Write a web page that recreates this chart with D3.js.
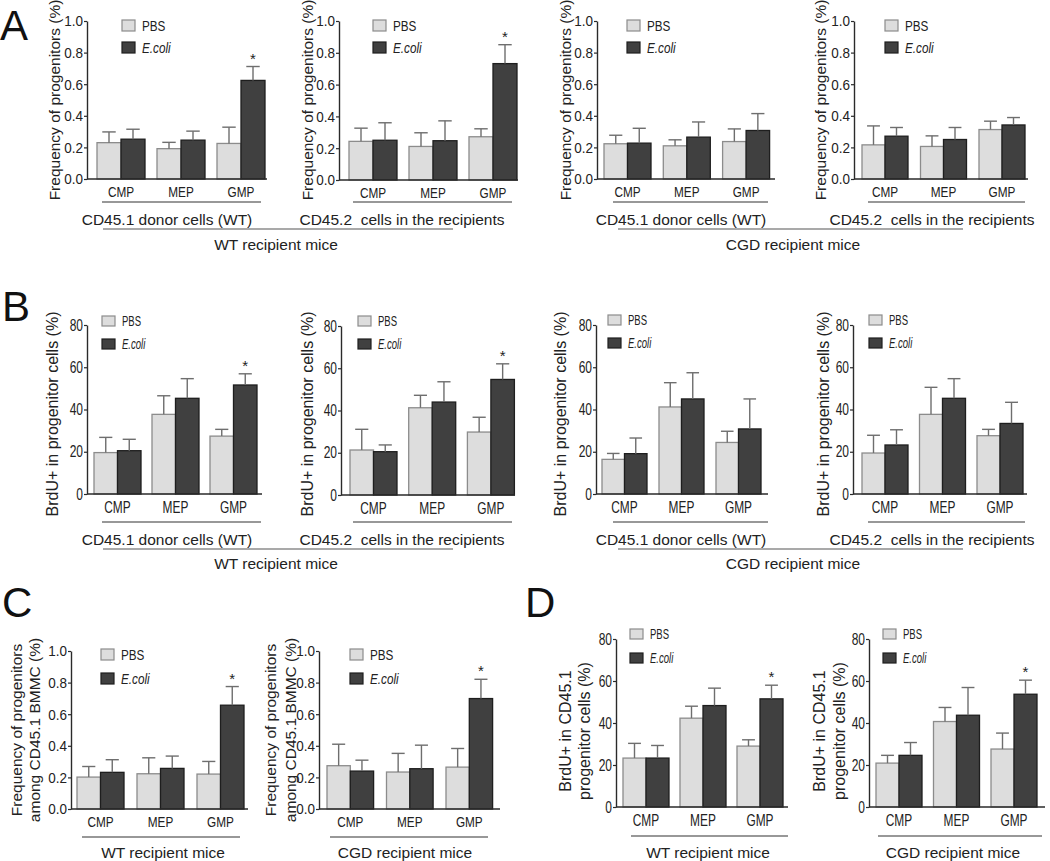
<!DOCTYPE html>
<html><head><meta charset="utf-8">
<script src="https://cdn.jsdelivr.net/npm/d3@7/dist/d3.min.js"></script>
<style>
body{margin:0;background:#fff;}
svg{display:block;}
</style></head>
<body>
<svg id="fig" width="1050" height="861"></svg>
<script>
// ---------- DATA ----------
const categories = ["CMP", "MEP", "GMP"];
const seriesNames = ["PBS", "E.coli"];
const fracTicks = [0, 0.2, 0.4, 0.6, 0.8, 1.0];
const pctTicks = [0, 20, 40, 60, 80];

// Panel A: frequency of progenitors (%)
const a1PBS = [0.230, 0.192, 0.225], a1PBSErr = [0.068, 0.040, 0.103];
const a1Ecoli = [0.252, 0.246, 0.624], a1EcoliErr = [0.063, 0.057, 0.088];
const a1Sig = ["GMP"];
const a2PBS = [0.243, 0.211, 0.272], a2PBSErr = [0.083, 0.086, 0.050];
const a2Ecoli = [0.250, 0.247, 0.732], a2EcoliErr = [0.110, 0.125, 0.119];
const a2Sig = ["GMP"];
const a3PBS = [0.223, 0.210, 0.237], a3PBSErr = [0.054, 0.038, 0.080];
const a3Ecoli = [0.227, 0.265, 0.307], a3EcoliErr = [0.094, 0.096, 0.107];
const a3Sig = [];
const a4PBS = [0.216, 0.206, 0.313], a4PBSErr = [0.120, 0.067, 0.053];
const a4Ecoli = [0.271, 0.250, 0.342], a4EcoliErr = [0.055, 0.076, 0.047];
const a4Sig = [];

// Panel B: BrdU+ in progenitor cells (%)
const b1PBS = [19.6, 37.7, 27.4], b1PBSErr = [7.2, 8.8, 3.2];
const b1Ecoli = [20.5, 45.3, 51.6], b1EcoliErr = [5.4, 9.3, 5.3];
const b1Sig = ["GMP"];
const b2PBS = [21.3, 41.3, 29.8], b2PBSErr = [9.8, 5.9, 7.0];
const b2Ecoli = [20.5, 44.0, 54.7], b2EcoliErr = [3.2, 9.6, 7.4];
const b2Sig = ["GMP"];
const b3PBS = [16.4, 41.2, 24.4], b3PBSErr = [2.8, 11.5, 5.3];
const b3Ecoli = [19.1, 45.0, 30.8], b3EcoliErr = [7.4, 12.4, 14.2];
const b3Sig = [];
const b4PBS = [19.4, 37.7, 27.6], b4PBSErr = [8.4, 12.8, 3.0];
const b4Ecoli = [23.2, 45.3, 33.4], b4EcoliErr = [7.2, 9.3, 10.0];
const b4Sig = [];

// Panel C: frequency among CD45.1 BMMC (%)
const c1PBS = [0.202, 0.223, 0.221], c1PBSErr = [0.067, 0.101, 0.080];
const c1Ecoli = [0.232, 0.257, 0.657], c1EcoliErr = [0.080, 0.078, 0.118];
const c1Sig = ["GMP"];
const c2PBS = [0.274, 0.234, 0.265], c2PBSErr = [0.136, 0.118, 0.118];
const c2Ecoli = [0.240, 0.255, 0.699], c2EcoliErr = [0.069, 0.149, 0.122];
const c2Sig = ["GMP"];

// Panel D: BrdU+ in CD45.1 progenitor cells (%)
const d1PBS = [23.3, 42.3, 29.0], d1PBSErr = [7.0, 5.7, 3.0];
const d1Ecoli = [23.3, 48.3, 51.5], d1EcoliErr = [6.0, 8.3, 6.5];
const d1Sig = ["GMP"];
const d2PBS = [20.9, 40.7, 27.6], d2PBSErr = [3.7, 6.7, 7.6];
const d2Ecoli = [24.6, 43.7, 53.7], d2EcoliErr = [6.1, 13.2, 6.7];
const d2Sig = ["GMP"];

// ---------- STYLE ----------
const REG = "'Liberation Sans', Arial, sans-serif";
const colPBS = "#dddddd", strokePBS = "#8c8c8c";
const colEco = "#404040", strokeEco = "#1e1e1e";
const errCol = "#6e6e6e";
const axisCol = "#2a2a2a";

const svg = d3.select("#fig");

// condense a text selection horizontally (emulates a narrow typeface)
function condense(sel, ratio) {
  sel.each(function () {
    const len = this.getComputedTextLength();
    if (len > 0) {
      d3.select(this).attr("textLength", (len * ratio).toFixed(2))
        .attr("lengthAdjust", "spacingAndGlyphs");
    }
  });
}

function build(pbs, pbsErr, eco, ecoErr, sig) {
  return categories.map((c, i) => ({
    cat: c,
    sig: sig.includes(c),
    vals: [
      {s: "PBS", v: pbs[i], e: pbsErr[i]},
      {s: "E.coli", v: eco[i], e: ecoErr[i]}
    ]
  }));
}

function drawPanel(p) {
  const g = svg.append("g");
  const y = d3.scaleLinear().domain([0, p.max]).range([p.y0, p.yTop]);
  const span = 2 * p.step + 2 * p.bw;
  const x = d3.scaleBand().domain(categories)
    .range([p.g0, p.g0 + span])
    .paddingInner((p.step - 2 * p.bw) / p.step).paddingOuter(0);
  const xs = d3.scaleBand().domain(seriesNames).range([0, x.bandwidth()]);

  // y axis
  const ya = d3.axisLeft(y).tickValues(p.ticks).tickFormat(p.fmt)
    .tickSize(3).tickSizeOuter(0).tickPadding(1);
  const yg = g.append("g").attr("transform", `translate(${p.ax},0)`).call(ya);
  yg.attr("font-family", REG).attr("font-size", p.tickFs);
  yg.select(".domain").attr("stroke", axisCol).attr("stroke-width", 1.4);
  yg.selectAll(".tick line").attr("stroke", axisCol).attr("stroke-width", 1.2);
  const yt = yg.selectAll(".tick text").attr("font-family", REG).attr("font-size", p.tickFs)
    .attr("fill", "#222");
  condense(yt, p.tickR);

  // bars
  const data = build(p.pbs, p.pbsErr, p.eco, p.ecoErr, p.sig);
  const grp = g.selectAll(".grp").data(data).join("g")
    .attr("transform", d => `translate(${x(d.cat)},0)`);
  grp.selectAll("rect").data(d => d.vals).join("rect")
    .attr("x", d => xs(d.s)).attr("width", xs.bandwidth())
    .attr("y", d => y(d.v)).attr("height", d => y(0) - y(d.v))
    .attr("fill", d => d.s === "PBS" ? colPBS : colEco)
    .attr("stroke", d => d.s === "PBS" ? strokePBS : strokeEco)
    .attr("stroke-width", 1.3);
  // error bars
  const eb = grp.selectAll(".eb").data(d => d.vals).join("g");
  eb.append("line")
    .attr("x1", d => xs(d.s) + xs.bandwidth() / 2).attr("x2", d => xs(d.s) + xs.bandwidth() / 2)
    .attr("y1", d => y(d.v)).attr("y2", d => y(d.v + d.e))
    .attr("stroke", errCol).attr("stroke-width", 1.4);
  eb.append("line")
    .attr("x1", d => xs(d.s) + xs.bandwidth() * 0.22).attr("x2", d => xs(d.s) + xs.bandwidth() * 0.78)
    .attr("y1", d => y(d.v + d.e)).attr("y2", d => y(d.v + d.e))
    .attr("stroke", errCol).attr("stroke-width", 1.4);
  // significance stars
  grp.filter(d => d.sig).append("text")
    .attr("x", d => xs("E.coli") + xs.bandwidth() / 2)
    .attr("y", d => y(d.vals[1].v + d.vals[1].e) - 3)
    .attr("text-anchor", "middle").attr("font-family", REG).attr("font-size", 15)
    .attr("fill", "#222").text("*");

  // x axis line
  g.append("line").attr("x1", p.ax).attr("x2", p.axEnd)
    .attr("y1", y(0)).attr("y2", y(0)).attr("stroke", axisCol).attr("stroke-width", 1.4);
  // category labels
  const xa = d3.axisBottom(x).tickSize(0).tickPadding(p.catPad);
  const xg = g.append("g").attr("transform", `translate(0,${y(0)})`).call(xa);
  xg.attr("font-family", REG).attr("font-size", p.catFs);
  xg.select(".domain").remove();
  const xt = xg.selectAll(".tick text").attr("font-family", REG).attr("font-size", p.catFs).attr("fill", "#222");
  condense(xt, p.catR);

  // underline below categories
  g.append("line").attr("x1", p.ul[0]).attr("x2", p.ul[1])
    .attr("y1", p.ulY).attr("y2", p.ulY).attr("stroke", "#333").attr("stroke-width", 1.1);

  // y title
  p.yTitle.forEach((t, i) => {
    g.append("text").attr("transform", `translate(${p.yTitleX[i]},${p.yTitleY}) rotate(-90)`)
      .attr("text-anchor", "middle").attr("font-family", REG).attr("font-size", p.yTitleFs)
      .attr("fill", "#222").text(t);
  });

  // legend
  const lg = g.append("g");
  seriesNames.forEach((s, i) => {
    const ly = p.legY[i];
    lg.append("rect").attr("x", p.legX).attr("y", ly).attr("width", p.legW).attr("height", p.legH)
      .attr("fill", s === "PBS" ? colPBS : colEco)
      .attr("stroke", s === "PBS" ? strokePBS : strokeEco).attr("stroke-width", 1.2);
    const t = lg.append("text").attr("x", p.legX + p.legW + 7).attr("y", ly + p.legH / 2)
      .attr("dy", "0.36em").attr("font-family", REG).attr("font-size", p.legFs)
      .attr("font-style", s === "E.coli" ? "italic" : "normal")
      .attr("fill", "#222").text(s);
    condense(t, p.legR);
  });
}

const fmt1 = d3.format(".1f"), fmt0 = d3.format("d");
const titleA = ["Frequency of progenitors (%)"];
const titleB = ["BrdU+ in progenitor cells (%)"];
const titleC = ["Frequency of progenitors", "among CD45.1 BMMC (%)"];
const titleD = ["BrdU+ in CD45.1", "progenitor cells (%)"];

const styA = {legW:13, legH:11, legFs:15, legR:0.78, tickFs:15, tickR:0.9, catFs:15.5, catR:0.76, catPad:7, yTitleFs:15.5};
const styB = {legW:13, legH:10, legFs:14, legR:0.68, tickFs:16, tickR:0.75, catFs:17, catR:0.7, catPad:7, yTitleFs:16};

const panels = [
  // Row A
  Object.assign({pbs:a1PBS,pbsErr:a1PBSErr,eco:a1Ecoli,ecoErr:a1EcoliErr,sig:a1Sig,max:1.0,ticks:fracTicks,fmt:fmt1,
   ax:87,axEnd:267,yTop:21,y0:179,g0:97,step:60,bw:24,ul:[102,261],ulY:202,
   yTitle:titleA,yTitleX:[60],yTitleY:100,legX:122,legY:[20,42]}, styA),
  Object.assign({pbs:a2PBS,pbsErr:a2PBSErr,eco:a2Ecoli,ecoErr:a2EcoliErr,sig:a2Sig,max:1.0,ticks:fracTicks,fmt:fmt1,
   ax:339,axEnd:518,yTop:21,y0:180,g0:349,step:60,bw:24,ul:[353,512],ulY:202,
   yTitle:titleA,yTitleX:[313],yTitleY:100,legX:373,legY:[20,42]}, styA),
  Object.assign({pbs:a3PBS,pbsErr:a3PBSErr,eco:a3Ecoli,ecoErr:a3EcoliErr,sig:a3Sig,max:1.0,ticks:fracTicks,fmt:fmt1,
   ax:597,axEnd:775,yTop:21,y0:179,g0:604,step:59.3,bw:23.5,ul:[613,768],ulY:202,
   yTitle:titleA,yTitleX:[571],yTitleY:100,legX:627,legY:[20,42]}, styA),
  Object.assign({pbs:a4PBS,pbsErr:a4PBSErr,eco:a4Ecoli,ecoErr:a4EcoliErr,sig:a4Sig,max:1.0,ticks:fracTicks,fmt:fmt1,
   ax:854,axEnd:1028,yTop:21,y0:179,g0:862,step:58.5,bw:23,ul:[868,1025],ulY:202,
   yTitle:titleA,yTitleX:[826],yTitleY:100,legX:885,legY:[20,42]}, styA),
  // Row B
  Object.assign({pbs:b1PBS,pbsErr:b1PBSErr,eco:b1Ecoli,ecoErr:b1EcoliErr,sig:b1Sig,max:80,ticks:pctTicks,fmt:fmt0,
   ax:87,axEnd:262,yTop:325,y0:494,g0:94,step:58,bw:23.5,ul:[102,261],ulY:522,
   yTitle:titleB,yTitleX:[58],yTitleY:414,legX:102,legY:[316,339]}, styB),
  Object.assign({pbs:b2PBS,pbsErr:b2PBSErr,eco:b2Ecoli,ecoErr:b2EcoliErr,sig:b2Sig,max:80,ticks:pctTicks,fmt:fmt0,
   ax:341,axEnd:515,yTop:326,y0:495,g0:350,step:58.7,bw:23.5,ul:[353,512],ulY:522,
   yTitle:titleB,yTitleX:[313],yTitleY:414,legX:358,legY:[316,339]}, styB),
  Object.assign({pbs:b3PBS,pbsErr:b3PBSErr,eco:b3Ecoli,ecoErr:b3EcoliErr,sig:b3Sig,max:80,ticks:pctTicks,fmt:fmt0,
   ax:596,axEnd:768,yTop:325,y0:494,g0:602,step:57,bw:22.5,ul:[613,768],ulY:522,
   yTitle:titleB,yTitleX:[566],yTitleY:414,legX:608,legY:[315,338]}, styB),
  Object.assign({pbs:b4PBS,pbsErr:b4PBSErr,eco:b4Ecoli,ecoErr:b4EcoliErr,sig:b4Sig,max:80,ticks:pctTicks,fmt:fmt0,
   ax:853,axEnd:1027,yTop:325,y0:494,g0:862,step:57.5,bw:23,ul:[868,1025],ulY:522,
   yTitle:titleB,yTitleX:[829],yTitleY:414,legX:869,legY:[315,338]}, styB),
  // Row C
  Object.assign({pbs:c1PBS,pbsErr:c1PBSErr,eco:c1Ecoli,ecoErr:c1EcoliErr,sig:c1Sig,max:1.0,ticks:fracTicks,fmt:fmt1,
   ax:71,axEnd:248,yTop:651,y0:809,g0:77,step:60,bw:23.5,ul:[82,240],ulY:837,
   yTitle:titleC,yTitleX:[22,40],yTitleY:730,legX:101,legY:[649,673]}, styA),
  Object.assign({pbs:c2PBS,pbsErr:c2PBSErr,eco:c2Ecoli,ecoErr:c2EcoliErr,sig:c2Sig,max:1.0,ticks:fracTicks,fmt:fmt1,
   ax:319,axEnd:500,yTop:651,y0:809,g0:327,step:59.5,bw:23.3,ul:[330,488],ulY:837,
   yTitle:titleC,yTitleX:[276,296],yTitleY:730,legX:350,legY:[649,673]}, styA),
  // Row D
  Object.assign({pbs:d1PBS,pbsErr:d1PBSErr,eco:d1Ecoli,ecoErr:d1EcoliErr,sig:d1Sig,max:80,ticks:pctTicks,fmt:fmt0,
   ax:616,axEnd:788,yTop:639,y0:807,g0:623,step:57,bw:23,ul:[631,788],ulY:836,
   yTitle:titleD,yTitleX:[571,590],yTitleY:731,legX:630,legY:[629,653]}, styB),
  Object.assign({pbs:d2PBS,pbsErr:d2PBSErr,eco:d2Ecoli,ecoErr:d2EcoliErr,sig:d2Sig,max:80,ticks:pctTicks,fmt:fmt0,
   ax:869,axEnd:1045,yTop:639,y0:807,g0:876,step:57.5,bw:23,ul:[878,1042],ulY:836,
   yTitle:titleD,yTitleX:[825,845],yTitleY:731,legX:883,legY:[629,653]}, styB)
];
panels.forEach(drawPanel);

// ---------- group annotations ----------
function txt(x, y, s, fs) {
  svg.append("text").attr("x", x).attr("y", y).attr("text-anchor", "middle")
    .attr("font-family", REG).attr("font-size", fs || 15.5).attr("fill", "#222").text(s);
}
function hline(x1, x2, y, col) {
  svg.append("line").attr("x1", x1).attr("x2", x2).attr("y1", y).attr("y2", y)
    .attr("stroke", col || "#555").attr("stroke-width", 1.1);
}
const donorLabel = "CD45.1 donor cells (WT)";
const recipLabel = "CD45.2\u00a0 cells in the recipients";
// Row A
txt(167, 225, donorLabel); txt(402, 225, recipLabel);
hline(103, 453, 229); txt(276, 250, "WT recipient mice");
txt(681, 225, donorLabel); txt(932, 225, recipLabel);
hline(618, 963, 229); txt(793, 250, "CGD recipient mice");
// Row B
txt(167, 545, donorLabel); txt(402, 545, recipLabel);
hline(103, 453, 549); txt(276, 569, "WT recipient mice");
txt(681, 545, donorLabel); txt(932, 545, recipLabel);
hline(618, 963, 549); txt(793, 569, "CGD recipient mice");
// Row C / D
txt(163, 858, "WT recipient mice"); txt(405, 858, "CGD recipient mice");
txt(708, 858, "WT recipient mice"); txt(953, 858, "CGD recipient mice");

// panel letters
[["A", 0, 40], ["B", 2, 321], ["C", 2, 617], ["D", 525, 617]].forEach(([t, x, y]) => {
  svg.append("text").attr("x", x).attr("y", y).attr("font-family", REG)
    .attr("font-size", 42).attr("fill", "#111").text(t);
});
</script>
</body></html>
